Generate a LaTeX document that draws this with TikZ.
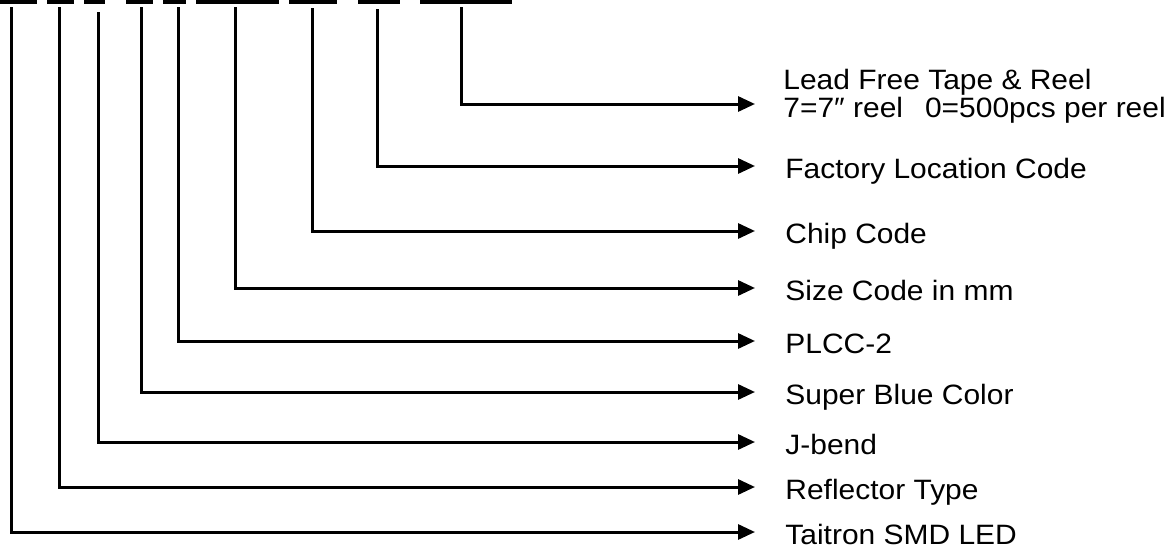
\documentclass[tikz,border=0pt]{standalone}
\usepackage{fontspec}
\setmainfont{Liberation Sans}[FakeStretch=1.07]
\usetikzlibrary{arrows.meta}
\begin{document}
\begin{tikzpicture}[x=.5pt,y=-.5pt,font=\fontsize{14pt}{14pt}\selectfont,
  lead/.style={line width=1.5pt,-{Triangle[length=8.5pt,width=7.5pt]}},
  lab/.style={anchor=west,inner sep=0pt,text height=10pt,text depth=0pt,yshift=-1pt}]
  \useasboundingbox (0,0) rectangle (1169,552);
  % underlines of the part number
  \foreach \a/\b in {0/37,47/74,84/105,126/153,163/186,196/279,289/337,358/400,420/512}
    \fill (\a,0) rectangle (\b,4);
  % tape & reel
  \coordinate (top1) at (461,7);
  \coordinate (end1) at (755,104);
  \draw[lead] (top1) |- (end1);
  \node[anchor=base west,inner sep=0pt,align=left] (lab1) at (783,117)
    {Lead Free Tape \& Reel\\7=7″ reel\hskip 11pt0=500pcs per reel};
  % the other fields
  \foreach \n/\x/\ytop/\y/\txt in {2/377/9/166/Factory Location Code,3/312/8/231/Chip Code,
      4/235/7/288/Size Code in mm,5/178/7/341/PLCC-2,6/141/7/392/Super Blue Color,
      7/98/12/442/J-bend,8/59/7/487/Reflector Type,9/11/7/532/Taitron SMD LED} {
    \coordinate (top\n) at (\x,\ytop);
    \coordinate (end\n) at (755,\y);
    \draw[lead] (top\n) |- (end\n);
    \node[lab] (lab\n) at ([xshift=15pt]end\n) {\txt};
  }
\end{tikzpicture}
\end{document}
